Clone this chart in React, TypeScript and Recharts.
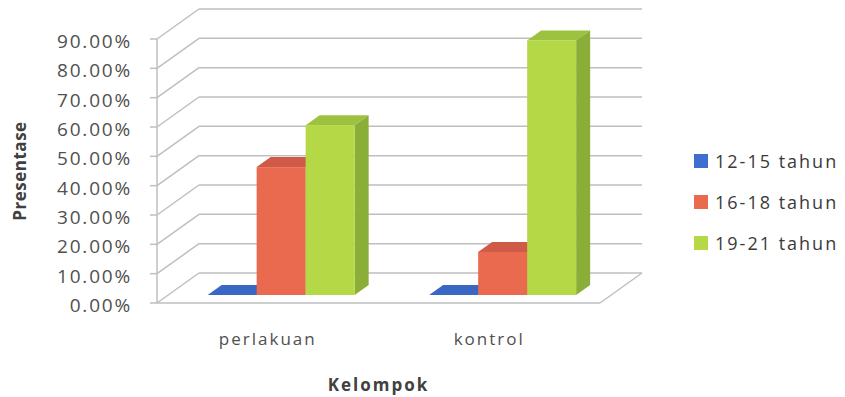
import React from 'react';
import { BarChart, Bar, XAxis, YAxis, CartesianGrid, Label } from 'recharts';

const groups = ['perlakuan', 'kontrol'];
const age12to15 = [0, 0];
const age16to18 = [0.436, 0.147];
const age19to21 = [0.579, 0.868];
const seriesNames = ['12-15 tahun', '16-18 tahun', '19-21 tahun'];
const yTicks = [0, 0.1, 0.2, 0.3, 0.4, 0.5, 0.6, 0.7, 0.8, 0.9];

const data = groups.map((g, i) => ({
  group: g,
  a: age12to15[i],
  b: age16to18[i],
  c: age19to21[i],
}));

const FONT = '"Open Sans", sans-serif';
const W = 845;
const H = 397;
const MARGIN = { top: 39, right: 245, bottom: 0, left: 0 };
const XAXIS_H = 94;
const PLOT_BOTTOM = H - MARGIN.bottom - XAXIS_H;

// oblique 3d offsets
const DEPTH_X = 42;
const DEPTH_Y = 30;
const BAR_SHIFT_X = 13;
const BAR_SHIFT_Y = 8;
const TOP_X = 14;
const TOP_Y = 10;
const GRID = '#bfbfbf';

const colors = [
  { front: '#3e6fcf', top: '#3a66c4', side: '#2f58ad' },
  { front: '#ea6a50', top: '#cf5a47', side: '#bf5140' },
  { front: '#b4d846', top: '#9dc23f', side: '#8aae37' },
];

const make3DBar = (c: { front: string; top: string; side: string }) => (props: any) => {
  const { x, y, width, height } = props;
  const fx = x + BAR_SHIFT_X;
  const fy = y - BAR_SHIFT_Y;
  const h = Math.max(height, 0);
  return (
    <g>
      <polygon
        points={`${fx},${fy} ${fx + TOP_X},${fy - TOP_Y} ${fx + width + TOP_X},${fy - TOP_Y} ${fx + width},${fy}`}
        fill={c.top}
      />
      <polygon
        points={`${fx + width},${fy} ${fx + width + TOP_X},${fy - TOP_Y} ${fx + width + TOP_X},${fy + h - TOP_Y} ${fx + width},${fy + h}`}
        fill={c.side}
      />
      <rect x={fx} y={fy} width={width} height={h} fill={c.front} />
    </g>
  );
};

const gridLine = (p: any) => {
  const { x1, y1, x2, key } = p;
  const isFloor = Math.abs(y1 - PLOT_BOTTOM) < 1;
  return (
    <g key={key}>
      <line x1={x1} y1={y1} x2={x1 + DEPTH_X} y2={y1 - DEPTH_Y} stroke={GRID} strokeWidth={1.5} />
      <line x1={x1 + DEPTH_X} y1={y1 - DEPTH_Y} x2={x2 + DEPTH_X} y2={y1 - DEPTH_Y} stroke={GRID} strokeWidth={1.5} />
      {isFloor && (
        <line x1={x2} y1={y1} x2={x2 + DEPTH_X} y2={y1 - DEPTH_Y} stroke={GRID} strokeWidth={1.5} />
      )}
    </g>
  );
};

const YTick = (props: any) => {
  const { x, y, payload } = props;
  return (
    <text x={x} y={y} dy={9} textAnchor="end" fontSize={19} fontWeight={500} fill="#505050" letterSpacing={1.8} fontFamily={FONT}>
      {`${(payload.value * 100).toFixed(2)}%`}
    </text>
  );
};

const XTick = (props: any) => {
  const { x, y, payload } = props;
  return (
    <text x={x} y={y} dy={42} textAnchor="middle" fontSize={17} fontWeight={500} fill="#505050" letterSpacing={2} fontFamily={FONT}>
      {payload.value}
    </text>
  );
};

function ChartLegend() {
  return (
    <div style={{ position: 'absolute', left: 694, top: 140, fontFamily: FONT }}>
      {seriesNames.map((name, i) => (
        <div key={name} style={{ display: 'flex', alignItems: 'center', height: 41 }}>
          <span style={{ width: 14, height: 14, background: colors[i].front, marginRight: 7, display: 'inline-block' }} />
          <span style={{ fontSize: 18, fontWeight: 500, letterSpacing: 2, color: '#3a3a3a', whiteSpace: 'nowrap' }}>{name}</span>
        </div>
      ))}
    </div>
  );
}

export default function App() {
  return (
    <div style={{ position: 'absolute', left: 0, top: 0, width: W, height: H, background: '#fff', fontFamily: FONT }}>
      <BarChart width={W} height={H} data={data} margin={MARGIN} barCategoryGap="17%" barGap={0}>
        <CartesianGrid vertical={false} horizontal={gridLine} />
        <XAxis
          dataKey="group"
          height={XAXIS_H}
          axisLine={{ stroke: GRID, strokeWidth: 1.5 }}
          tickLine={false}
          tickSize={0}
          tickMargin={0}
          tick={<XTick />}
        >
          <Label
            content={(lp: any) => {
              const vb = lp.viewBox;
              return (
                <text
                  x={vb.x + vb.width / 2}
                  y={H - 6}
                  textAnchor="middle"
                  fontSize={17}
                  fontWeight="bold"
                  letterSpacing={2}
                  fill="#404040"
                  fontFamily={FONT}
                >
                  Kelompok
                </text>
              );
            }}
          />
        </XAxis>
        <YAxis
          width={157}
          domain={[0, 0.9]}
          ticks={yTicks}
          axisLine={{ stroke: GRID, strokeWidth: 1.5 }}
          tickLine={{ stroke: GRID, strokeWidth: 1.5 }}
          tickSize={7}
          tickMargin={18}
          tick={<YTick />}
        >
          <Label
            content={(lp: any) => {
              const vb = lp.viewBox;
              const cy = vb.y + vb.height / 2;
              return (
                <text
                  x={19}
                  y={cy}
                  transform={`rotate(-90, 19, ${cy})`}
                  textAnchor="middle"
                  dominantBaseline="central"
                  fontSize={17}
                  fontWeight="bold"
                  letterSpacing={0.5}
                  fill="#404040"
                  fontFamily={FONT}
                >
                  Presentase
                </text>
              );
            }}
          />
        </YAxis>
        <Bar dataKey="a" name={seriesNames[0]} fill={colors[0].front} shape={make3DBar(colors[0])} isAnimationActive={false} />
        <Bar dataKey="b" name={seriesNames[1]} fill={colors[1].front} shape={make3DBar(colors[1])} isAnimationActive={false} />
        <Bar dataKey="c" name={seriesNames[2]} fill={colors[2].front} shape={make3DBar(colors[2])} isAnimationActive={false} />
      </BarChart>
      <ChartLegend />
    </div>
  );
}
